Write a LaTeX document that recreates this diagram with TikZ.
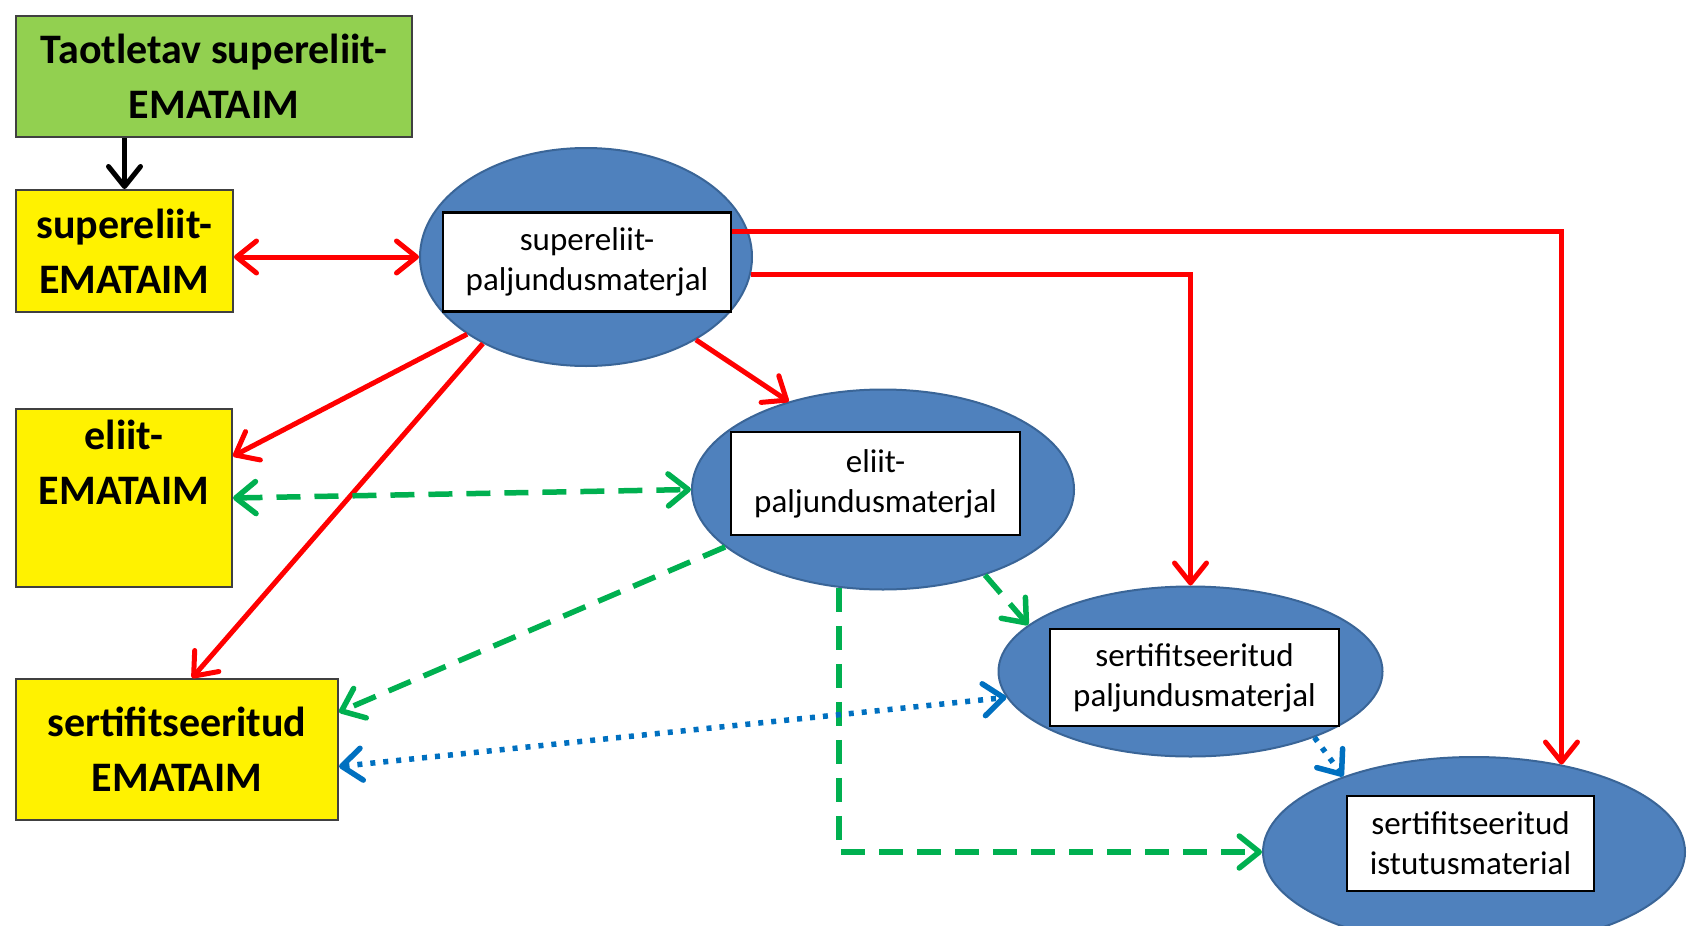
\documentclass[tikz,border=0pt]{standalone}
\usepackage{fontspec}
\setmainfont{Carlito}
\usepackage{tikz}
\usetikzlibrary{shapes.geometric,arrows.meta}
\definecolor{leafgreen}{HTML}{92D050}
\definecolor{ovalblue}{HTML}{4F81BD}
\definecolor{ovalline}{HTML}{3A6597}
\definecolor{dashgreen}{HTML}{00B050}
\definecolor{dotblue}{HTML}{0070C0}

\begin{document}
\begin{tikzpicture}[x=1pt,y=-1pt,
  >={Straight Barb[length=20pt,width=32pt,round]},
  box/.style={draw=black!75, line width=2pt, inner sep=0pt, align=center, font=\fontsize{42}{55}\selectfont\bfseries},
  oval/.style={ellipse, draw=ovalline, fill=ovalblue, line width=2pt, inner sep=0pt},
  tagbox/.style={draw, fill=white, line width=2.5pt, inner sep=0pt, align=center, font=\fontsize{33}{40}\selectfont},
  redline/.style={red, line width=5pt},
  greenline/.style={dashgreen, line width=5.5pt, dash pattern=on 24pt off 14pt},
  blueline/.style={dotblue, line width=5.5pt, dash pattern=on 5pt off 8pt}]
\useasboundingbox (0,0) rectangle (1687,926);

% boxes on the left
\node[box, fill=leafgreen, minimum width=396pt, minimum height=121pt] (taotlus) at (214,76.5) {Taotletav supereliit-\\EMATAIM};
\node[box, fill=yellow, minimum width=217pt, minimum height=122pt] (superema) at (124.5,251) {supereliit-\\EMATAIM};
\node[box, fill=yellow, minimum width=216pt, minimum height=178pt] (eliitema) at (124,498) {eliit-\\EMATAIM\\\strut};
\node[box, fill=yellow, minimum width=322pt, minimum height=141pt] (sertema) at (177,749.5) {sertifitseeritud\\EMATAIM};

% ovals
\node[oval, minimum width=332pt, minimum height=218pt] (superpal) at (586,257) {};
\node[oval, minimum width=382pt, minimum height=200pt] (eliitpal) at (883,489.5) {};
\node[oval, minimum width=384pt, minimum height=170pt] (sertpal) at (1190.5,671.5) {};
\node[oval, minimum width=422pt, minimum height=190pt] (istutus) at (1474,852) {};

\node[tagbox, minimum width=288pt, minimum height=99pt] (superpaltxt) at (587,262) {supereliit-\\paljundusmaterjal};
\node[tagbox, minimum width=289pt, minimum height=103pt] (eliitpaltxt) at (875.5,483.5) {eliit-\\paljundusmaterjal};
\node[tagbox, minimum width=289pt, minimum height=97pt] (sertpaltxt) at (1194.5,677.5) {sertifitseeritud\\paljundusmaterjal};
\node[tagbox, minimum width=247pt, minimum height=95pt] (istutustxt) at (1470.5,843.5) {sertifitseeritud\\istutusmaterial};

% connectors
\draw[->, line width=5pt] (taotlus.south -| superema.north) -- (superema.north);
\draw[<->, redline] (superema.east |- superpal.west) -- (superpal.west);
\draw[->, redline] ([yshift=31pt]superpaltxt.east) -| (istutus.45);
\draw[->, redline] (superpal.-6) -| (sertpal.north);
\draw[->, redline] (superpal.213) -- (eliitema.21);
\draw[->, redline] (superpal.220) -- ([xshift=15pt]sertema.north);
\draw[->, redline] (superpal.-37) -- (eliitpal.137);

\draw[<->, greenline] (eliitema.east) -- (eliitpal.west);
\draw[->, greenline] (eliitpal.200) -- (sertema.13);
\draw[->, greenline] (eliitpal.-40) -- (sertpal.164);
\draw[->, greenline] (eliitpal.246) |- (istutus.west);

\draw[<->, blueline] (sertema.-6) -- (sertpal.188);
\draw[->, blueline] (sertpal.-28) -- (istutus.150);
\end{tikzpicture}
\end{document}
